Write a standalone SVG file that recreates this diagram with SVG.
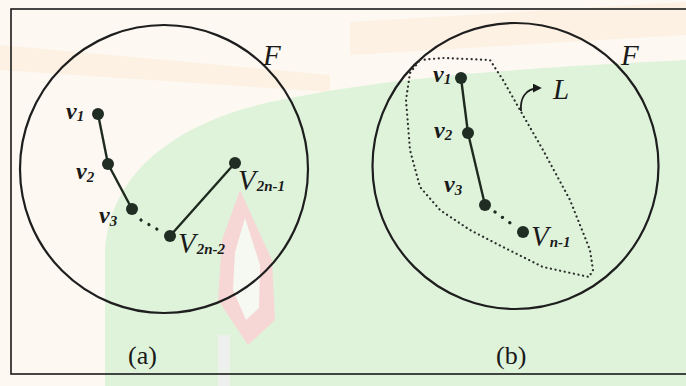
<svg xmlns="http://www.w3.org/2000/svg" width="686" height="386" viewBox="0 0 686 386">
<defs>
<style>
.frame{fill:none;stroke:#1a1a1a;stroke-width:1.6}
.circ{fill:none;stroke:#1e1e1e;stroke-width:2.2}
.edge{stroke:#1f2a1f;stroke-width:2.4;fill:none}
.dots{stroke:#1f2a1f;stroke-width:3.2;fill:none;stroke-dasharray:0.1 9;stroke-linecap:round}
.bound{fill:none;stroke:#2a2f2a;stroke-width:2.2;stroke-dasharray:0.1 4.6;stroke-linecap:round;stroke-linejoin:round}
.node{fill:#1f2d22}
.lbl{font-family:"Liberation Serif","Times New Roman",serif;font-style:italic;font-weight:bold;fill:#1a1a1a;font-size:24px}
.big{font-size:29px;font-weight:normal}
.sub{font-size:15px;font-weight:bold}
.cap{font-family:"Liberation Serif","Times New Roman",serif;fill:#1a1a1a;font-size:26px}
</style>
<marker id="ah" viewBox="0 0 10 10" refX="8" refY="5" markerWidth="5" markerHeight="5" orient="auto">
<path d="M0,0 L10,5 L0,10 z" fill="#1a1a1a"/>
</marker>
</defs>
<rect width="686" height="386" fill="#fdf9f2"/>
<g id="background">
<path d="M0,45 L330,75 L330,92 L0,70 Z" fill="#fcf1e3"/>
<path d="M350,22 L686,2 L686,35 L350,55 Z" fill="#fcf1e3"/>
<path d="M105,386 L105,250 C110,170 180,120 280,100 C380,80 480,70 686,60 L686,386 Z" fill="#dff3db"/>
<path d="M240,190 L272,260 L275,320 L248,345 L218,300 L222,240 Z" fill="#f7d6d6"/>
<path d="M245,218 L260,265 L259,308 L246,320 L233,290 L235,252 Z" fill="#f5f9f2"/>
<path d="M218,335 L218,386 L230,386 L230,335 Z" fill="#eef0ee"/>
</g>
<rect class="frame" x="11" y="9" width="680" height="365"/>
<g id="panel-a">
<circle class="circ" cx="164" cy="169" r="144"/>
<text class="lbl big" x="263" y="65">F</text>
<g id="connectors-a">
<line class="edge" x1="98" y1="114" x2="108" y2="164"/>
<line class="edge" x1="108" y1="164" x2="132" y2="209"/>
<line class="dots" x1="141" y1="220" x2="162" y2="232"/>
<line class="edge" x1="170" y1="236" x2="235" y2="163"/>
</g>
<g id="a-v1"><circle class="node" cx="98" cy="114" r="6"/><text class="lbl" x="66" y="119">v<tspan class="sub" dy="2">1</tspan></text></g>
<g id="a-v2"><circle class="node" cx="108" cy="164" r="6"/><text class="lbl" x="76" y="179">v<tspan class="sub" dy="3">2</tspan></text></g>
<g id="a-v3"><circle class="node" cx="132" cy="209" r="6"/><text class="lbl" x="99" y="223">v<tspan class="sub" dy="3">3</tspan></text></g>
<g id="a-v2n-2"><circle class="node" cx="170" cy="236" r="6"/><text class="lbl big" x="178" y="253">V<tspan class="sub" dx="1" dy="1">2n-2</tspan></text></g>
<g id="a-v2n-1"><circle class="node" cx="235" cy="163" r="6"/><text class="lbl big" x="238" y="190">V<tspan class="sub" dx="1" dy="1">2n-1</tspan></text></g>
<text class="cap" x="128" y="364">(a)</text>
</g>
<g id="panel-b">
<circle class="circ" cx="515.5" cy="166" r="143"/>
<text class="lbl big" x="621" y="65">F</text>
<g id="L">
<path class="bound" d="M420,60 L443,58 L490,60 L503,80 L520,110 L543,150 L570,200 L590,250 L593,270 L589,277 L543,267 L503,247 L470,230 L440,210 L420,187 L410,150 L406,100 L410,73 Z"/>
<path d="M521,111 C520,100 524,88 540,88" fill="none" stroke="#1a1a1a" stroke-width="1.8" marker-end="url(#ah)"/>
<text class="lbl big" x="553" y="99">L</text>
</g>
<g id="connectors-b">
<line class="edge" x1="461" y1="78" x2="468" y2="133"/>
<line class="edge" x1="468" y1="133" x2="485" y2="205"/>
<line class="dots" x1="495" y1="212" x2="513" y2="225"/>
</g>
<g id="b-v1"><circle class="node" cx="461" cy="78" r="6"/><text class="lbl" x="433" y="82">v<tspan class="sub" dy="2">1</tspan></text></g>
<g id="b-v2"><circle class="node" cx="468" cy="133" r="6"/><text class="lbl" x="434" y="138">v<tspan class="sub" dy="2">2</tspan></text></g>
<g id="b-v3"><circle class="node" cx="485" cy="205" r="6"/><text class="lbl" x="444" y="192">v<tspan class="sub" dy="3">3</tspan></text></g>
<g id="b-vn-1"><circle class="node" cx="523" cy="232" r="6"/><text class="lbl big" x="531" y="246">V<tspan class="sub" dx="1" dy="1">n-1</tspan></text></g>
<text class="cap" x="496" y="364">(b)</text>
</g>
</svg>
